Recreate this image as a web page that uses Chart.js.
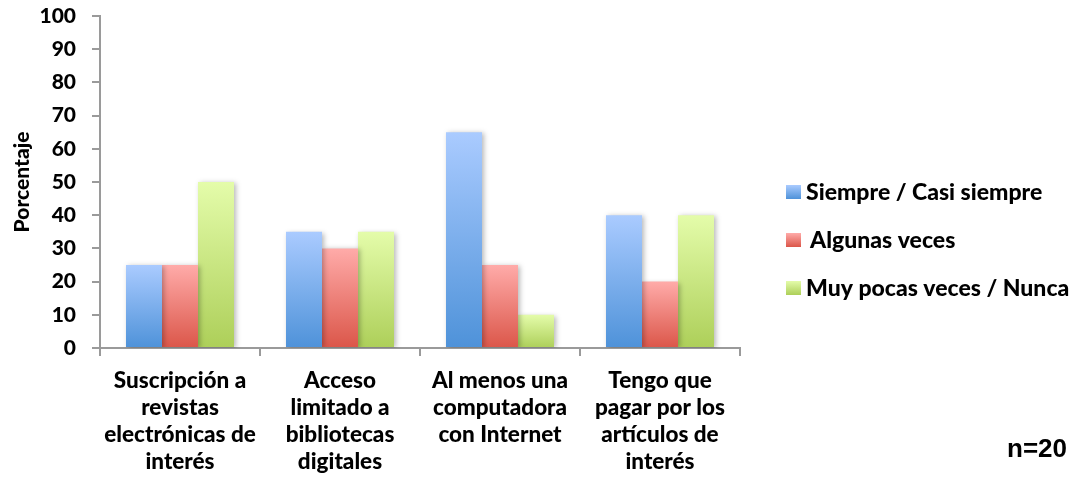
<!DOCTYPE html>
<html>
<head>
<meta charset="utf-8">
<script src="https://cdn.jsdelivr.net/npm/chart.js@4/dist/chart.umd.min.js"></script>
<style>
  html, body { margin: 0; padding: 0; background: #fff; }
  #wrap { width: 1070px; height: 477px; position: relative; }
</style>
</head>
<body>
<div id="wrap"><canvas id="c" width="1070" height="477"></canvas></div>
<script>
// Categories (multi-line labels) and series values (%)
const categories = [
  ['Suscripción a', 'revistas', 'electrónicas de', 'interés'],
  ['Acceso', 'limitado a', 'bibliotecas', 'digitales'],
  ['Al menos una', 'computadora', 'con Internet'],
  ['Tengo que', 'pagar por los', 'artículos de', 'interés']
];
const seriesNames = ['Siempre / Casi siempre', 'Algunas veces', 'Muy pocas veces / Nunca'];
const siempre = [25, 35, 65, 40];
const algunas = [25, 30, 25, 20];
const pocas = [50, 35, 10, 40];
const yTicks = [0, 10, 20, 30, 40, 50, 60, 70, 80, 90, 100];
const sampleNote = 'n=20';

const FONT = 'Lato, "Open Sans", sans-serif';
const WEIGHT = '900';

// Gradient stops (top, bottom) per series
const palette = [
  ['#AACBFF', '#4E92D9'],
  ['#FFABA9', '#DB5649'],
  ['#E4FCAA', '#ADCF59']
];

function barGradient(idx) {
  return (ctx) => {
    const chart = ctx.chart;
    const y = chart.scales && chart.scales.y;
    if (!chart.chartArea || !y || ctx.raw === undefined) return palette[idx][1];
    const top = y.getPixelForValue(ctx.raw);
    const bottom = y.getPixelForValue(0);
    const g = chart.ctx.createLinearGradient(0, top, 0, bottom);
    g.addColorStop(0, palette[idx][0]);
    g.addColorStop(1, palette[idx][1]);
    return g;
  };
}

// Soft drop shadow behind the bars
const barShadow = {
  id: 'barShadow',
  beforeDatasetsDraw(chart) {
    const c = chart.ctx;
    c.save();
    c.shadowColor = 'rgba(0,0,0,0.28)';
    c.shadowBlur = 5;
    c.shadowOffsetX = 2;
    c.shadowOffsetY = 1;
  },
  afterDatasetsDraw(chart) {
    chart.ctx.restore();
  }
};

// Legend on the right plus the sample size note
const sideLegend = {
  id: 'sideLegend',
  afterDraw(chart) {
    const c = chart.ctx;
    const left = chart.chartArea.right + 46;
    const rows = [192, 240, 288];
    c.save();
    c.font = WEIGHT + ' 23px ' + FONT;
    c.textBaseline = 'middle';
    seriesNames.forEach((name, i) => {
      const yc = rows[i];
      const g = c.createLinearGradient(0, yc - 7, 0, yc + 7);
      g.addColorStop(0, palette[i][0]);
      g.addColorStop(1, palette[i][1]);
      c.fillStyle = g;
      c.fillRect(left, yc - 7, 15, 14);
      c.fillStyle = '#000';
      c.textAlign = 'left';
      c.fillText(name, left + (i === 1 ? 24 : 20), yc + 1);
    });
    c.font = 'bold 26px "Liberation Sans", Arial, sans-serif';
    c.textAlign = 'right';
    c.textBaseline = 'alphabetic';
    c.fillText(sampleNote, 1067, 457);
    c.restore();
  }
};

const axisColor = '#9a9a9a';

new Chart(document.getElementById('c'), {
  type: 'bar',
  data: {
    labels: categories,
    datasets: [
      { label: seriesNames[0], data: siempre, backgroundColor: barGradient(0) },
      { label: seriesNames[1], data: algunas, backgroundColor: barGradient(1) },
      { label: seriesNames[2], data: pocas, backgroundColor: barGradient(2) }
    ]
  },
  options: {
    responsive: false,
    animation: false,
    layout: { padding: { top: 16, right: 330, bottom: 0, left: 10 } },
    datasets: { bar: { categoryPercentage: 0.675, barPercentage: 1.0, borderWidth: 0 } },
    plugins: {
      legend: { display: false },
      tooltip: { enabled: false }
    },
    scales: {
      x: {
        offset: true,
        grid: {
          offset: true,
          drawOnChartArea: false,
          drawTicks: true,
          tickLength: 8,
          color: axisColor,
          lineWidth: 2
        },
        border: { display: true, color: axisColor, width: 2 },
        ticks: {
          color: '#000',
          padding: 11,
          maxRotation: 0,
          autoSkip: false,
          font: { family: FONT, size: 22.5, weight: WEIGHT, lineHeight: 1.2 }
        },
        afterFit(scale) { scale.height = 129; }
      },
      y: {
        min: 0,
        max: 100,
        afterBuildTicks(scale) { scale.ticks = yTicks.map(v => ({ value: v })); },
        grid: {
          drawOnChartArea: false,
          drawTicks: true,
          tickLength: 8,
          color: axisColor,
          lineWidth: 2
        },
        border: { display: true, color: axisColor, width: 2 },
        ticks: {
          color: '#000',
          padding: 16,
          font: { family: FONT, size: 21, weight: WEIGHT }
        },
        title: {
          display: true,
          text: 'Porcentaje',
          color: '#000',
          padding: { top: 0, bottom: 10 },
          font: { family: FONT, size: 21, weight: WEIGHT }
        },
        afterFit(scale) {
          scale.width = 90;
          scale.paddingTop = 0;
          scale.paddingBottom = 0;
        }
      }
    }
  },
  plugins: [barShadow, sideLegend]
});
</script>
</body>
</html>
